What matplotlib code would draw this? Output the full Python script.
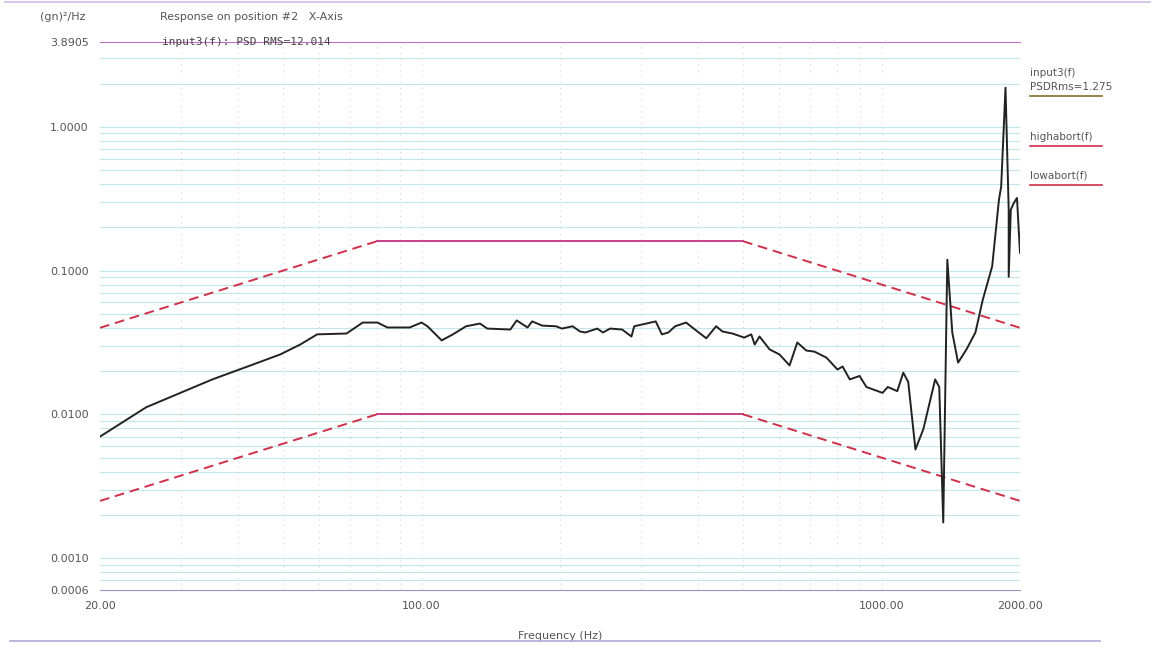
import matplotlib.pyplot as plt
from matplotlib.lines import Line2D

# response PSD, (gn)^2/Hz
freq = [20, 25.2, 35.1, 42.5, 49.3, 54.5, 59.3, 68.7, 74.5, 80.2, 84.3, 94.2,
        100, 103, 110.6, 117, 125, 134, 139, 156, 161, 170, 174, 183, 196,
        202, 213, 221, 227, 241, 248, 257, 273, 286, 290, 308, 323, 333, 344,
        356, 376, 393, 416, 437, 451, 474, 503, 521, 530, 543, 571, 600, 631,
        656, 686, 715, 759, 802, 823, 853, 896, 927, 1005, 1032, 1082, 1115,
        1143, 1185, 1233, 1308, 1335, 1362, 1390, 1425, 1467, 1530, 1600,
        1660, 1740, 1800, 1820, 1860, 1890, 1890, 1910, 1940, 1970, 2000]
psd = [0.0070, 0.0112, 0.0175, 0.0219, 0.0261, 0.0306, 0.0360, 0.0365, 0.0435,
       0.0435, 0.0402, 0.0402, 0.0435, 0.0410, 0.0327, 0.0360, 0.0410, 0.0428,
       0.0395, 0.0389, 0.0450, 0.0402, 0.0443, 0.0414, 0.0410, 0.0395, 0.0410,
       0.0377, 0.0371, 0.0395, 0.0371, 0.0395, 0.0389, 0.0348, 0.0410, 0.0428,
       0.0443, 0.0360, 0.0371, 0.0410, 0.0435, 0.0389, 0.0338, 0.0410, 0.0377,
       0.0365, 0.0342, 0.0360, 0.0306, 0.0348, 0.0283, 0.0261, 0.0219, 0.0316,
       0.0278, 0.0273, 0.0248, 0.0205, 0.0215, 0.0175, 0.0185, 0.0155, 0.0141,
       0.0155, 0.0145, 0.0195, 0.0168, 0.0057, 0.0079, 0.0175, 0.0155, 0.00177,
       0.119, 0.0371, 0.0229, 0.0283, 0.0371, 0.0627, 0.107, 0.311, 0.383,
       1.87, 0.265, 0.0905, 0.265, 0.296, 0.320, 0.133]

# abort limits
abort_freq = [20, 80, 500, 2000]
high_abort = [0.04, 0.16, 0.16, 0.04]
low_abort = [0.0025, 0.01, 0.01, 0.0025]

yticks = [0.0006, 0.001, 0.01, 0.1, 1.0, 3.8905]
ytick_labels = ['0.0006', '0.0010', '0.0100', '0.1000', '1.0000', '3.8905']
xticks = [20, 100, 1000, 2000]
xtick_labels = ['20.00', '100.00', '1000.00', '2000.00']

fig = plt.figure(figsize=(11.54, 6.52), dpi=100)
ax = fig.add_axes([100 / 1154, 62 / 652, 920 / 1154, 548 / 652])
ax.set_xscale('log')
ax.set_yscale('log')
ax.set_xlim(20, 2000)
ax.set_ylim(0.0006, 3.8905)

# grid: cyan horizontal lines, faint dotted verticals
for dec in [0.0001, 0.001, 0.01, 0.1, 1.0]:
    for m in range(1, 10):
        v = dec * m
        if 0.0006 < v < 3.8905:
            ax.axhline(v, color='#8fd3dc', lw=0.8, alpha=0.55, zorder=0)
for dec in [10, 100, 1000]:
    for m in range(1, 10):
        v = dec * m
        if 20 < v < 2000:
            ax.axvline(v, color='#c0c0c0', lw=0.6, ls=(0, (1, 6)), zorder=0)

# abort lines: sloped parts dashed red, plateau solid magenta
for lim in [high_abort, low_abort]:
    ax.plot(abort_freq[:2], lim[:2], color='#d0304a', lw=1.4, ls=(0, (5, 3)))
    ax.plot(abort_freq[1:3], lim[1:3], color='#c8408a', lw=1.4)
    ax.plot(abort_freq[2:], lim[2:], color='#d0304a', lw=1.4, ls=(0, (5, 3)))
ax.plot(freq, psd, color='#222222', lw=1.4)

ax.set_xticks(xticks)
ax.set_xticklabels(xtick_labels)
ax.set_yticks(yticks)
ax.set_yticklabels(ytick_labels)
ax.minorticks_off()
ax.tick_params(length=0, labelsize=8, labelcolor='#555555', pad=8)
for s in ['left', 'right']:
    ax.spines[s].set_visible(False)
ax.spines['top'].set_color('#c070c0')
ax.spines['bottom'].set_color('#a090c0')
ax.set_xlabel('Frequency (Hz)', fontsize=8, color='#555555', labelpad=14)

fig.text(40 / 1154, 1 - 17 / 652, '(gn)²/Hz', fontsize=8, color='#555555', va='center')
fig.text(160 / 1154, 1 - 17 / 652, 'Response on position #2   X-Axis', fontsize=8,
         color='#555555', va='center')
fig.text(162 / 1154, 1 - 42 / 652, 'input3(f): PSD RMS=12.014', fontsize=8,
         family='DejaVu Sans Mono', color='#444444', va='center')

# legend block on the right
fig.text(1030 / 1154, 1 - 73 / 652, 'input3(f)', fontsize=7.5, color='#555555', va='center')
fig.text(1030 / 1154, 1 - 87 / 652, 'PSDRms=1.275', fontsize=7.5, color='#555555', va='center')
fig.text(1030 / 1154, 1 - 137 / 652, 'highabort(f)', fontsize=7.5, color='#555555', va='center')
fig.text(1030 / 1154, 1 - 176 / 652, 'lowabort(f)', fontsize=7.5, color='#555555', va='center')
for y, c in [(96, '#8a6a30'), (146, '#d0304a'), (185, '#d0304a')]:
    fig.add_artist(Line2D([1030 / 1154, 1102 / 1154], [1 - y / 652] * 2,
                          color=c, lw=1.2, transform=fig.transFigure))

# scan edge lines
fig.add_artist(Line2D([5 / 1154, 1150 / 1154], [1 - 2 / 652] * 2,
                      color='#d8c8e8', lw=1.5, transform=fig.transFigure))
fig.add_artist(Line2D([10 / 1154, 1100 / 1154], [1 - 641 / 652] * 2,
                      color='#b0a8d8', lw=1.2, transform=fig.transFigure))

fig.savefig('out.png', dpi=100)
